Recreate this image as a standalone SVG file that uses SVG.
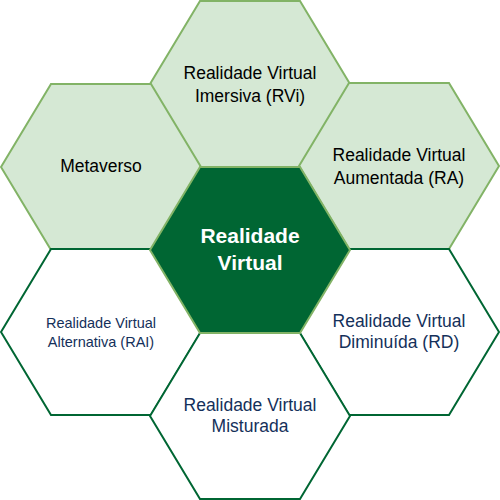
<svg xmlns="http://www.w3.org/2000/svg" width="500" height="500" viewBox="0 0 500 500">
<defs>
<style>
.light{fill:#d5e8d4;stroke:#82b366;stroke-width:2}
.core{fill:#006633;stroke:#82b366;stroke-width:2}
.white{fill:#ffffff;stroke:#006633;stroke-width:2}
text{font-family:"Liberation Sans",Arial,Helvetica,sans-serif;text-anchor:middle}
.t{font-size:17.5px;fill:#000000}
.n{font-size:17.5px;fill:#14305a}
.s{font-size:14.5px;fill:#14305a}
.c{font-size:21px;font-weight:bold;fill:#ffffff}
</style>
<polygon id="hex" points="-100,0 -50,-83 50,-83 100,0 50,83 -50,83"/>
</defs>
<g id="nodes">
<g id="rvi"><use href="#hex" class="light" x="250" y="84"/><text class="t" x="250" y="79">Realidade Virtual</text><text class="t" x="250" y="102">Imersiva (RVi)</text></g>
<g id="metaverso"><use href="#hex" class="light" x="101" y="167"/><text class="t" x="101" y="172">Metaverso</text></g>
<g id="ra"><use href="#hex" class="light" x="399" y="166"/><text class="t" x="399" y="161">Realidade Virtual</text><text class="t" x="399" y="184">Aumentada (RA)</text></g>
<g id="rai"><use href="#hex" class="white" x="101" y="332"/><text class="s" x="101" y="328">Realidade Virtual</text><text class="s" x="101" y="347">Alternativa (RAI)</text></g>
<g id="rd"><use href="#hex" class="white" x="399" y="332"/><text class="n" x="399" y="327">Realidade Virtual</text><text class="n" x="399" y="348">Diminuída (RD)</text></g>
<g id="misturada"><use href="#hex" class="white" x="250" y="416"/><text class="n" x="250" y="411">Realidade Virtual</text><text class="n" x="250" y="432">Misturada</text></g>
<g id="rv"><use href="#hex" class="core" x="250" y="250"/><text class="c" x="250" y="243">Realidade</text><text class="c" x="250" y="270">Virtual</text></g>
</g>
<g id="connectors"/>
</svg>
